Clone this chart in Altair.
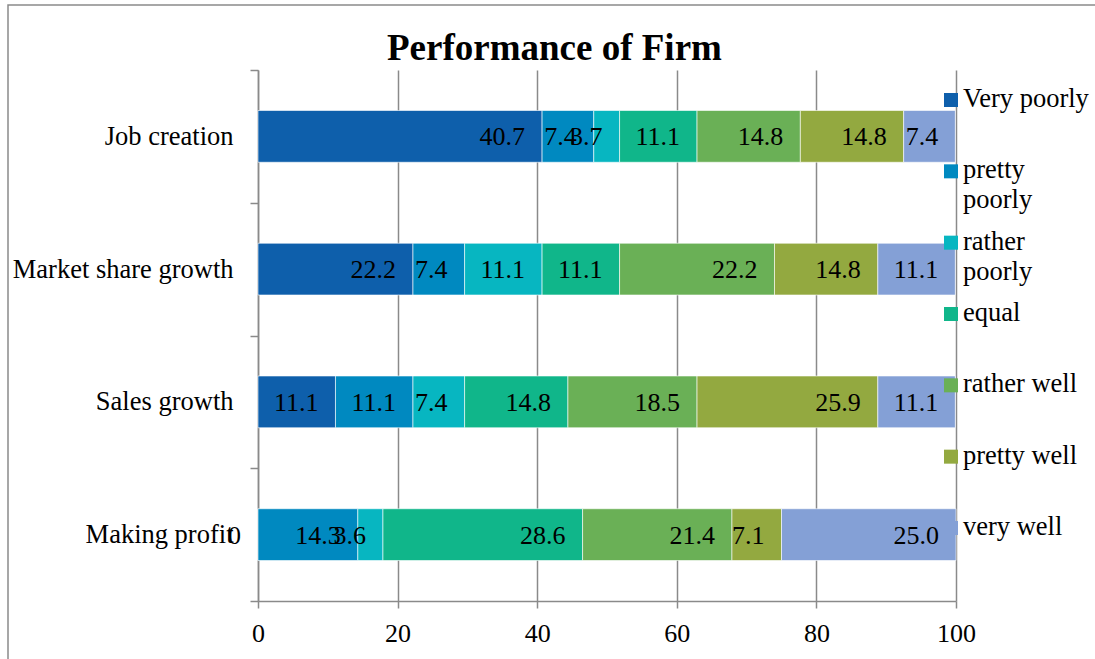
import altair as alt
import pandas as pd

# Survey: how firms rate their own performance on four aspects (% of respondents)
aspects = ["Job creation", "Market share growth", "Sales growth", "Making profit"]
ratings = ["Very poorly", "pretty poorly", "rather poorly", "equal",
           "rather well", "pretty well", "very well"]
legend_captions = ["Very poorly", "pretty\npoorly", "rather\npoorly", "equal",
                   "rather well", "pretty well", "very well"]
chart_title = "Performance of Firm"

job_creation = [40.7, 7.4, 3.7, 11.1, 14.8, 14.8, 7.4]
market_share_growth = [22.2, 7.4, 11.1, 11.1, 22.2, 14.8, 11.1]
sales_growth = [11.1, 11.1, 7.4, 14.8, 18.5, 25.9, 11.1]
making_profit = [0, 14.3, 3.6, 28.6, 21.4, 7.1, 25.0]

palette = ["#0E5FAB", "#0089C0", "#07B6C1", "#10B68A", "#6AB056", "#93A940", "#84A0D6"]

rows = []
for aspect, shares in zip(aspects, [job_creation, market_share_growth,
                                    sales_growth, making_profit]):
    for rank, (rating, share) in enumerate(zip(ratings, shares)):
        rows.append({"aspect": aspect, "rating": rating, "rank": rank, "share": share})
df = pd.DataFrame(rows)
legend_df = pd.DataFrame({"rating": ratings, "caption": legend_captions})

FONT = "Liberation Serif"
GRAY = "#8a8a8a"

color = alt.Color("rating:N", scale=alt.Scale(domain=ratings, range=palette), legend=None)

# Full-width bands so the category ticks fall halfway between the bars
y_scale = alt.Scale(paddingInner=0, paddingOuter=0)
y_aspect = alt.Y(
    "aspect:N", sort=aspects, title=None, scale=y_scale,
    axis=alt.Axis(tickBand="extent", tickSize=8, labelPadding=17, grid=False,
                  labelAlign="right", labelBaseline="middle", labelLimit=400,
                  labelFontSize=26.5),
)
x_share = alt.X(
    "share:Q", stack="zero", title=None,
    scale=alt.Scale(domain=[0, 100], nice=False),
    axis=alt.Axis(values=[0, 20, 40, 60, 80, 100], grid=True, tickSize=7,
                  labelPadding=12, labelFlush=False),
)

bars = alt.Chart(df).mark_bar(
    stroke="white", strokeWidth=0.6, height=alt.RelativeBandSize(0.39),
).encode(
    x=x_share, y=y_aspect, color=color, order=alt.Order("rank:Q"),
)

values = alt.Chart(df).transform_calculate(
    txt="datum.share == 0 ? '0' : format(datum.share, '.1f')"
).mark_text(
    align="right", baseline="middle", dx=-17, dy=1,
    font=FONT, fontSize=26, color="black",
).encode(
    x=alt.X("share:Q", stack="zero"),
    y=alt.Y("aspect:N", sort=aspects, scale=y_scale, axis=None),
    text="txt:N",
    order=alt.Order("rank:Q"),
)

legend_y = alt.Y(
    "rating:N", sort=ratings, axis=None,
    scale=alt.Scale(type="point", domain=ratings, range=[37, 465], padding=0),
)
legend_keys = alt.Chart(legend_df).mark_square(size=196, opacity=1).encode(
    x=alt.value(693), y=legend_y, yOffset=alt.value(-7), color=color,
)
legend_text = alt.Chart(legend_df).mark_text(
    align="left", baseline="alphabetic", lineBreak="\n", lineHeight=30,
    font=FONT, fontSize=26.5, color="black",
).encode(x=alt.value(705), y=legend_y, text="caption:N")

heading = alt.Chart(pd.DataFrame({"label": [chart_title]})).mark_text(
    align="left", baseline="alphabetic", font=FONT, fontSize=37,
    fontWeight="bold", color="black",
).encode(x=alt.value(129), y=alt.value(-10), text="label:N")

frame = alt.Chart(pd.DataFrame({"k": [0]})).mark_rect(
    filled=False, stroke=GRAY, strokeWidth=1.5,
).encode(x=alt.value(-250), x2=alt.value(860), y=alt.value(-65), y2=alt.value(620))

chart = alt.layer(frame, heading, bars, values, legend_keys, legend_text).resolve_scale(
    y="independent"
).properties(
    width=698, height=531,
    autosize=alt.AutoSizeParams(type="none"),
    padding={"left": 258, "top": 70, "right": 139, "bottom": 59},
).configure_view(
    strokeWidth=0
).configure_axis(
    labelFont=FONT, labelFontSize=26, labelColor="black",
    domainColor=GRAY, domainWidth=1.5, tickColor=GRAY, tickWidth=1.5,
    gridColor=GRAY, gridWidth=1.5,
)

chart.save("out.html", embed_options={"renderer": "svg", "actions": False})
